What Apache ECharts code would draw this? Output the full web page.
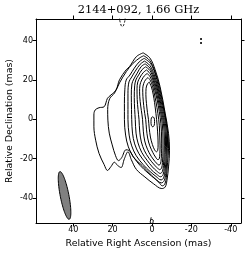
<!DOCTYPE html>
<html><head><meta charset="utf-8">
<script src="https://cdn.jsdelivr.net/npm/echarts@6/dist/echarts.min.js"></script>
<style>html,body{margin:0;padding:0;background:#fff}#c{width:250px;height:255px}</style>
</head><body><div id="c"></div>
<script>
const title = '2144+092, 1.66 GHz';
const xName = 'Relative Right Ascension (mas)';
const yName = 'Relative Declination (mas)';
const xRange = [-45.2, 58.9];
const yRange = [-52.7, 51.0];
const xTicks = [-40, -20, 0, 20, 40];
const yTicks = [-40, -20, 0, 20, 40];

// positive contours (mas), outermost first
const contour1 = [[4.5,33.8],[7.9,31.9],[11.4,26.8],[13.1,25.2],[16.5,20.1],[18.2,15.0],[20.8,12.4],[22.6,10.7],[24.3,6.4],[26.9,5.9],[28.9,4.7],[29.5,2.2],[29.5,-3.8],[28.6,-10.6],[26.9,-17.3],[24.3,-23],[22.6,-26],[20.8,-24],[19.1,-21.8],[17.4,-23.5],[15.7,-24.5],[14,-20],[12.2,-16.5],[10.5,-20.5],[7.9,-25.5],[3.6,-29.3],[-0.7,-32.7],[-5,-35.2],[-6.7,-34.4],[-7.6,-31],[-8.4,-24.2],[-8.9,-15.7],[-8.4,-7.1],[-6.7,3.1],[-4.1,16.6],[-1.6,25.2],[1,31.1],[4.5,33.8]];
const contour2 = [[4.2,32.3],[6,31.4],[9.7,28.4],[13,24.3],[16.5,18.5],[19,13.4],[21.5,10.5],[22.5,5],[22.4,-0.4],[21.7,-7],[20.2,-13],[18.5,-18.5],[17,-21],[15.4,-19.5],[13.2,-15.5],[11.6,-15.8],[9.2,-19.5],[5,-23.5],[0.2,-28.5],[-3.5,-32],[-5.2,-33.8],[-6.5,-33],[-7.3,-29.5],[-7.9,-22],[-8.4,-15],[-8,-7],[-6.4,3],[-3.9,16],[-1.4,24.5],[1.2,30],[4.2,32.3]];
const contour3 = [[4.0,31.0],[6.5,29.2],[9.0,26.0],[11.2,22.5],[13.1,20],[13.8,15],[14.0,8],[14.0,0],[13.4,-8],[12.0,-14],[9.5,-19],[6,-23.5],[2,-27.3],[-1.5,-30.2],[-4.8,-32.3],[-6.2,-31.2],[-7.0,-27.5],[-7.6,-20],[-7.9,-10],[-7.3,-2],[-6.3,4],[-4.8,10],[-3.2,17],[-1.5,23.5],[0.8,28.5],[4.0,31.0]];
const contour4 = [[3.8,29.6],[6.0,28],[8.5,24.5],[10.3,21.5],[11.7,19],[12.2,13],[12.2,5],[12.2,0],[11.6,-8],[10.3,-13.5],[8,-18.5],[4.5,-23],[1,-26.5],[-2,-29],[-4.6,-30.8],[-5.9,-29.8],[-6.6,-26.5],[-7.2,-19],[-7.4,-10],[-6.8,-2],[-5.8,4],[-4.4,10],[-2.9,16.5],[-1.2,22.5],[1,27.3],[3.8,29.6]];
const contour5 = [[3.5,28.2],[5.5,26.8],[7.5,23.5],[9.2,20.5],[10.2,18],[10.5,12],[10.4,5],[10.3,0],[9.9,-7],[8.8,-12.5],[6.6,-17.5],[3.5,-21.8],[0.5,-25.5],[-2.2,-27.8],[-4.4,-29.2],[-5.6,-28.2],[-6.2,-25],[-6.7,-18],[-6.9,-10],[-6.3,-2],[-5.3,4],[-4.0,10],[-2.6,16],[-1,21.5],[1,26],[3.5,28.2]];
const contour6 = [[3.2,26.7],[5,25.3],[6.8,22.5],[8.2,20],[8.8,17],[9.0,11],[8.8,5],[8.5,0],[8.1,-7],[7.1,-12],[5.2,-16.8],[2.5,-20.8],[-0.2,-24.2],[-2.4,-26.3],[-4.2,-27.5],[-5.3,-26.5],[-5.8,-23.5],[-6.2,-17],[-6.3,-10],[-5.8,-2],[-4.8,4],[-3.6,10],[-2.3,15.5],[-0.8,20.5],[1,24.8],[3.2,26.7]];
const contour7 = [[2.8,25.1],[4.4,23.8],[6.0,21.5],[7.2,19],[7.6,15.5],[7.5,10],[7.1,5],[6.6,0],[6.2,-6.5],[5.4,-11.5],[3.8,-16],[1.5,-19.8],[-0.8,-22.7],[-2.6,-24.6],[-3.9,-25.6],[-4.9,-24.7],[-5.3,-22],[-5.6,-16],[-5.6,-10],[-5.2,-2],[-4.3,4],[-3.1,10],[-1.9,15],[-0.6,19.7],[1,23.3],[2.8,25.1]];
const contour8 = [[2.4,23.3],[3.8,22.2],[5.2,20],[6.1,17.5],[6.3,14],[6.0,9],[5.4,4.5],[4.8,0],[4.4,-6],[3.7,-11],[2.3,-15.2],[0.4,-18.8],[-1.5,-21.4],[-2.7,-22.7],[-3.5,-23.3],[-4.3,-22.6],[-4.7,-20],[-4.9,-15],[-4.9,-10],[-4.5,-2],[-3.7,4],[-2.6,10],[-1.5,14.5],[-0.4,18.5],[1,21.7],[2.4,23.3]];
const contour9 = [[2.0,21.2],[3.2,20.2],[4.2,18.2],[4.7,15.5],[4.6,11.5],[4.2,7],[3.7,3],[3.2,0],[2.8,-5],[2.2,-9.5],[1.1,-13.5],[-0.4,-16.8],[-1.8,-19.2],[-3.0,-20.5],[-3.7,-20],[-4.0,-17.5],[-4.1,-13.5],[-4.0,-10],[-3.7,-3],[-3.0,3],[-2.0,9],[-1.1,13.5],[-0.2,17.2],[0.9,19.9],[2.0,21.2]];
const contour10 = [[1.4,19],[2.3,18],[3.0,15.8],[3.1,12.5],[2.8,8],[2.3,3.5],[1.8,0],[1.4,-4.5],[0.8,-9],[-0.2,-12.8],[-1.3,-15.5],[-2.3,-16.5],[-2.9,-15.8],[-3.1,-13],[-3.0,-9],[-2.6,-3],[-2.0,3],[-1.3,8.5],[-0.6,12.8],[0.3,16.5],[1.4,19]];
const contour11 = [[-0.4,1.4],[0.3,0.7],[0.5,-1.2],[0.3,-3.1],[-0.4,-3.8],[-1.1,-3.1],[-1.3,-1.2],[-1.1,0.7],[-0.4,1.4]];
const blobBottom = [[0.4,-49.8],[0.7,-51.2],[0.9,-52.3],[0.2,-52.9],[-0.6,-52.4],[-0.6,-51.2],[0.1,-50.9],[0.7,-51.2]];
// negative (dashed) contours
const negContour1 = [[16.6,52.5],[16.3,50],[15.6,47.6],[15.1,47.1],[14.5,47.6],[13.8,50],[13.5,52.5]];
const negContour2 = [[-24.9,41.3],[-24.9,37.6]];

const beamCenter = [44.4, -38.7];
const beamAxes = [24.7, 4.4]; // major, minor (mas)
const beamPA = 11; // degrees, east of north

const positive = [contour1, contour2, contour3, contour4, contour5, contour6, contour7, contour8, contour9, contour10, contour11, blobBottom];
const negative = [negContour1];
const negativeDots = [negContour2];

const font = 'DejaVu Sans';
function xAx(pos, show) {
  return {type:'value', position:pos, inverse:true, min:xRange[0], max:xRange[1],
    axisLine:{show:true, onZero:false, lineStyle:{color:'#000', width:1}},
    axisTick:{show:true, length:3.5, customValues:xTicks, lineStyle:{color:'#000', width:1}},
    axisLabel:{show:show, customValues:xTicks, color:'#000', fontSize:8, fontFamily:font, margin:3},
    splitLine:{show:false},
    name: show ? xName : '', nameLocation:'middle', nameGap:16,
    nameTextStyle:{fontSize:9.4, fontFamily:font, color:'#000'}};
}
function yAx(pos, show) {
  return {type:'value', position:pos, min:yRange[0], max:yRange[1],
    axisLine:{show:true, onZero:false, lineStyle:{color:'#000', width:1}},
    axisTick:{show:true, length:3.5, customValues:yTicks, lineStyle:{color:'#000', width:1}},
    axisLabel:{show:show, customValues:yTicks, color:'#000', fontSize:8, fontFamily:font, margin:3},
    splitLine:{show:false}};
}
const series = [];
positive.forEach(c => series.push({type:'line', data:c, symbol:'none', smooth:0.35, clip:true, silent:true,
  lineStyle:{color:'#000', width:1}, z:3}));
negative.forEach(c => series.push({type:'line', data:c, symbol:'none', smooth:0.2, clip:true, silent:true,
  lineStyle:{color:'#000', width:1, type:[2.5,1.5]}, z:3}));
negativeDots.forEach(c => series.push({type:'line', data:c, symbol:'none', clip:true, silent:true,
  lineStyle:{color:'#000', width:1.6, type:[2,2]}, z:3}));
series.push({type:'custom', clip:true, silent:true, z:2, data:[beamCenter],
  renderItem:(params, api) => {
    const pa = beamPA * Math.PI / 180, pts = [];
    for (let i = 0; i < 90; i++) {
      const t = i / 90 * 2 * Math.PI;
      const u = beamAxes[1] / 2 * Math.cos(t), v = beamAxes[0] / 2 * Math.sin(t);
      pts.push(api.coord([beamCenter[0] + u * Math.cos(pa) + v * Math.sin(pa),
                          beamCenter[1] - u * Math.sin(pa) + v * Math.cos(pa)]));
    }
    return {type:'polygon', shape:{points:pts}, style:{fill:'#808080', stroke:'#000', lineWidth:1}};
  }});

const chart = echarts.init(document.getElementById('c'), null, {renderer:'canvas'});
chart.setOption({
  animation:false,
  backgroundColor:'#fff',
  grid:{left:36, top:19, width:205, height:204, containLabel:false, outerBoundsMode:'none'},
  xAxis:[xAx('bottom', true), xAx('top', false)],
  yAxis:[yAx('left', true), yAx('right', false)],
  graphic:[
    {type:'text', x:138.5, y:10, silent:true,
      style:{text:title, align:'center', verticalAlign:'middle', fill:'#000', font:'11.4px "DejaVu Serif"'}},
    {type:'text', x:10, y:121, rotation:Math.PI/2, silent:true,
      style:{text:yName, align:'center', verticalAlign:'middle', fill:'#000', font:'9.4px "DejaVu Sans"'}}],
  series:series
});
</script></body></html>
